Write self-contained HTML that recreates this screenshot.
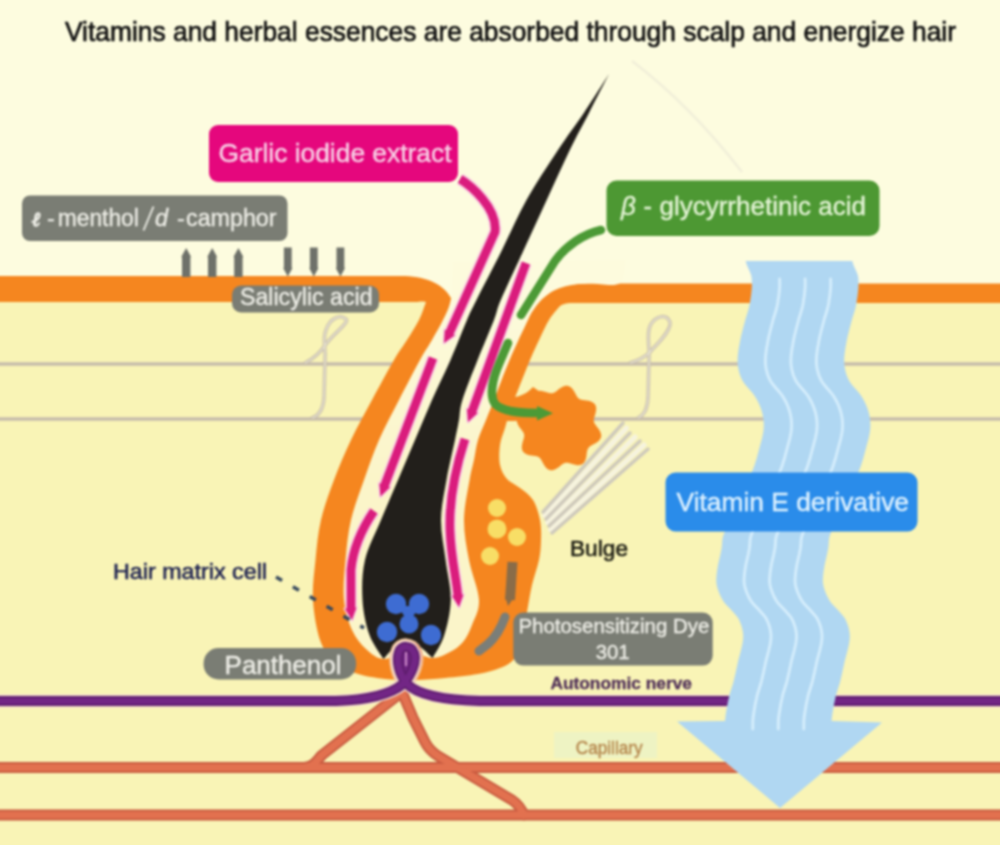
<!DOCTYPE html>
<html><head><meta charset="utf-8"><style>
html,body{margin:0;padding:0;background:#FDFCDF;}
body{width:1000px;height:845px;overflow:hidden;position:relative;font-family:"Liberation Sans",sans-serif;}
svg{position:absolute;left:-10px;top:-10px;display:block;filter:blur(0.8px);}
</style></head><body>

<svg width="1020" height="865" viewBox="-10 -10 1020 865" font-family="Liberation Sans, sans-serif">
<defs><linearGradient id="chg" x1="0" y1="290" x2="0" y2="480" gradientUnits="userSpaceOnUse"><stop offset="0" stop-color="#FDFBDD"/><stop offset="1" stop-color="#FBF5C9"/></linearGradient></defs>
<rect x="-10" y="-10" width="1020" height="865" fill="#FDFCDF"/>
<rect x="-10" y="297" width="1020" height="558" fill="#F9F4B6"/>
<path d="M632 61 Q 690 105 742 172" fill="none" stroke="#F1EFD9" stroke-width="2.5"/>
<g stroke="#C7BDAB" stroke-width="3.5" fill="none" stroke-linecap="round">
 <line x1="-10" y1="364" x2="1010" y2="364"/>
 <line x1="-10" y1="419" x2="1010" y2="419"/>
 <path d="M305 363 C315 358 322 350 326 344 C333 334 350 322 346 319 C340 314 330 318 326 330 C322 340 326 346 325 360 L324 398 C323 410 318 416 312 418"/>
 <path d="M630 363 C640 360 645 357 650 352 C657 344 672 330 670 322 C666 313 655 316 650 326 C646 336 650 345 649 360 L648 398 C647 410 644 415 638 418"/>
</g>
<g stroke="#EDE9D6" stroke-width="1.2" fill="none">
 <path d="M305 363 C315 358 322 350 326 344 C333 334 350 322 346 319 C340 314 330 318 326 330 C322 340 326 346 325 360 L324 398 C323 410 318 416 312 418"/>
 <path d="M630 363 C640 360 645 357 650 352 C657 344 672 330 670 322 C666 313 655 316 650 326 C646 336 650 345 649 360 L648 398 C647 410 644 415 638 418"/>
</g>
<!-- capillaries -->
<g fill="none" stroke-linecap="round" stroke-linejoin="round">
 <g stroke="#C95C41" stroke-width="11">
  <line x1="-10" y1="767.5" x2="1010" y2="767.5"/>
  <line x1="-10" y1="815" x2="1010" y2="815"/>
  <path d="M306 767 C 314 767 317 760 322 755 L 402 692"/>
  <path d="M402 692 L 413 718 L 425 742 C 428 748 432 752 438 756 L 512 800 C 518 804 521 808 524 815"/>
 </g>
 <g stroke="#E2714F" stroke-width="7">
  <line x1="-10" y1="767.5" x2="1010" y2="767.5"/>
  <line x1="-10" y1="815" x2="1010" y2="815"/>
  <path d="M306 767 C 314 767 317 760 322 755 L 402 692"/>
  <path d="M402 692 L 413 718 L 425 742 C 428 748 432 752 438 756 L 512 800 C 518 804 521 808 524 815"/>
 </g>
</g>
<!-- arrector pili -->
<g stroke="#F6F3DE" stroke-width="5" fill="none" stroke-linecap="round">
 <line x1="544.5" y1="515.5" x2="626.5" y2="428"/>
 <line x1="547.5" y1="522.5" x2="635" y2="437"/>
 <line x1="550.5" y1="529.5" x2="644" y2="445"/>
</g>
<g stroke="#CEC9BC" stroke-width="3.4" fill="none" stroke-linecap="round">
 <line x1="543" y1="512" x2="623" y2="423"/>
 <line x1="546" y1="519" x2="630" y2="433"/>
 <line x1="549" y1="526" x2="640" y2="441"/>
 <line x1="552" y1="533" x2="648" y2="449"/>
</g>
<!-- skin bands -->
<path fill="#F5861F" d="M-10 276 L405 276 C428 277 445 285 452 300 L455 306 L500 300 L524 318 C 535 296 550 283.5 590 283.5 L1010 283.5 L1010 303 L572 303 C566 303 562 304 559 307 L559.0 307.0 C557.3 309.2 552.2 314.8 549.0 320.0 C545.8 325.2 543.2 331.3 540.0 338.0 C536.8 344.7 533.7 351.3 530.0 360.0 C526.3 368.7 521.3 381.7 518.0 390.0 C514.7 398.3 512.2 403.7 510.0 410.0 C507.8 416.3 506.7 422.2 505.0 428.0 C503.3 433.8 500.8 438.8 500.0 445.0 C499.2 451.2 498.8 459.3 500.0 465.0 C501.2 470.7 503.7 475.2 507.0 479.0 C510.3 482.8 515.7 484.5 520.0 488.0 C524.3 491.5 529.7 494.7 533.0 500.0 C536.3 505.3 538.7 513.3 540.0 520.0 C541.3 526.7 541.2 533.3 541.0 540.0 C540.8 546.7 540.5 552.5 539.0 560.0 C537.5 567.5 534.0 576.3 532.0 585.0 C530.0 593.7 528.7 602.8 527.0 612.0 C525.3 621.2 524.2 632.2 522.0 640.0 C519.8 647.8 517.7 654.3 514.0 659.0 C510.3 663.7 506.0 665.5 500.0 668.0 C494.0 670.5 487.2 672.3 478.0 674.0 C468.8 675.7 455.5 677.0 445.0 678.0 C434.5 679.0 425.0 679.8 415.0 680.0 C405.0 680.2 395.0 680.2 385.0 679.0 C375.0 677.8 363.5 676.0 355.0 673.0 C346.5 670.0 339.8 666.5 334.0 661.0 C328.2 655.5 323.5 650.2 320.0 640.0 C316.5 629.8 313.8 613.3 313.0 600.0 C312.2 586.7 314.2 573.3 315.5 560.0 C316.8 546.7 317.9 533.3 321.0 520.0 C324.1 506.7 329.0 493.3 334.0 480.0 C339.0 466.7 344.7 453.3 351.0 440.0 C357.3 426.7 364.8 413.3 372.0 400.0 C379.2 386.7 388.2 370.0 394.0 360.0 C399.8 350.0 402.8 346.7 407.0 340.0 C411.2 333.3 415.8 326.3 419.0 320.0 C422.2 313.7 424.8 305.0 426.0 302.0 C421 301 419 302 416 302 L-10 302Z"/>
<path fill="#F5861F" d="M597.9 428.0 L599.0 429.6 L600.0 431.2 L600.7 432.9 L601.2 434.7 L601.2 436.4 L600.7 438.0 L599.9 439.5 L598.7 440.9 L597.3 442.1 L595.6 443.2 L593.9 444.1 L592.3 445.0 L590.8 445.8 L589.5 446.7 L588.5 447.7 L587.8 448.9 L587.3 450.3 L586.9 451.9 L586.7 453.6 L586.5 455.5 L586.2 457.4 L585.7 459.3 L585.0 461.0 L584.1 462.5 L582.9 463.7 L581.4 464.6 L579.8 465.1 L578.0 465.2 L576.1 465.0 L574.2 464.6 L572.3 464.1 L570.5 463.5 L568.9 463.1 L567.4 462.8 L565.9 462.8 L564.6 463.1 L563.2 463.8 L561.9 464.6 L560.5 465.7 L559.0 466.9 L557.4 468.0 L555.8 469.0 L554.1 469.7 L552.3 470.2 L550.6 470.2 L549.0 469.7 L547.5 468.9 L546.1 467.7 L544.9 466.3 L543.8 464.6 L542.9 462.9 L542.0 461.3 L541.2 459.8 L540.3 458.5 L539.3 457.5 L538.1 456.8 L536.7 456.3 L535.1 455.9 L533.4 455.7 L531.5 455.5 L529.6 455.2 L527.7 454.7 L526.0 454.0 L524.5 453.1 L523.3 451.9 L522.4 450.4 L521.9 448.8 L521.8 447.0 L522.0 445.1 L522.4 443.2 L522.9 441.3 L523.5 439.5 L523.9 437.9 L524.2 436.4 L524.2 434.9 L523.9 433.6 L523.2 432.2 L522.4 430.9 L521.3 429.5 L520.1 428.0 L519.0 426.4 L518.0 424.8 L517.3 423.1 L516.8 421.3 L516.8 419.6 L517.3 418.0 L518.1 416.5 L519.3 415.1 L520.7 413.9 L522.4 412.8 L524.1 411.9 L525.7 411.0 L527.2 410.2 L528.5 409.3 L529.5 408.3 L530.2 407.1 L530.7 405.7 L531.1 404.1 L531.3 402.4 L531.5 400.5 L531.8 398.6 L532.3 396.7 L533.0 395.0 L533.9 393.5 L535.1 392.3 L536.6 391.4 L538.2 390.9 L540.0 390.8 L541.9 391.0 L543.8 391.4 L545.7 391.9 L547.5 392.5 L549.1 392.9 L550.6 393.2 L552.1 393.2 L553.4 392.9 L554.8 392.2 L556.1 391.4 L557.5 390.3 L559.0 389.1 L560.6 388.0 L562.2 387.0 L563.9 386.3 L565.7 385.8 L567.4 385.8 L569.0 386.3 L570.5 387.1 L571.9 388.3 L573.1 389.7 L574.2 391.4 L575.1 393.1 L576.0 394.7 L576.8 396.2 L577.7 397.5 L578.7 398.5 L579.9 399.2 L581.3 399.7 L582.9 400.1 L584.6 400.3 L586.5 400.5 L588.4 400.8 L590.3 401.3 L592.0 402.0 L593.5 402.9 L594.7 404.1 L595.6 405.6 L596.1 407.2 L596.2 409.0 L596.0 410.9 L595.6 412.8 L595.1 414.7 L594.5 416.5 L594.1 418.1 L593.8 419.6 L593.8 421.1 L594.1 422.4 L594.8 423.8 L595.6 425.1 L596.7 426.5Z"/>
<path fill="#F5861F" d="M502 396 C512 399 524 397 533 387 L546 396 L540 418 C528 421 513 421 503 421Z"/>
<path fill="url(#chg)" d="M453.0 262.0 C452.8 266.7 452.6 282.8 452.0 290.0 C451.4 297.2 451.0 300.0 449.5 305.0 C448.0 310.0 445.9 314.2 443.0 320.0 C440.1 325.8 435.8 333.3 432.0 340.0 C428.2 346.7 425.5 350.0 420.0 360.0 C414.5 370.0 405.8 386.7 399.0 400.0 C392.2 413.3 384.8 426.7 379.0 440.0 C373.2 453.3 368.7 466.7 364.0 480.0 C359.3 493.3 354.1 506.7 351.0 520.0 C347.9 533.3 346.7 546.7 345.5 560.0 C344.3 573.3 342.9 588.3 344.0 600.0 C345.1 611.7 348.3 621.8 352.0 630.0 C355.7 638.2 360.8 644.2 366.0 649.0 C371.2 653.8 376.5 658.5 383.5 659.0 C390.5 659.5 399.8 652.2 408.0 652.0 C416.2 651.8 425.5 658.0 432.5 658.0 C439.5 658.0 444.9 654.7 450.0 652.0 C455.1 649.3 459.3 646.5 463.0 642.0 C466.7 637.5 469.3 632.0 472.0 625.0 C474.7 618.0 479.5 610.8 479.0 600.0 C478.5 589.2 471.5 573.3 469.0 560.0 C466.5 546.7 463.9 533.3 464.0 520.0 C464.1 506.7 467.9 490.0 469.6 480.0 C471.3 470.0 472.6 466.7 474.0 460.0 C475.4 453.3 476.0 446.7 478.0 440.0 C480.0 433.3 483.3 426.7 486.0 420.0 C488.7 413.3 490.1 410.0 494.0 400.0 C497.9 390.0 503.9 373.3 509.6 360.0 C515.3 346.7 524.0 328.3 528.0 320.0 C532.0 311.7 531.4 313.1 533.4 310.0 C535.4 306.9 537.6 303.9 540.1 301.2 C542.6 298.5 545.3 296.0 548.5 293.9 C551.7 291.8 555.2 289.8 559.3 288.3 C563.4 286.8 567.8 285.5 572.9 284.7 C578.0 283.9 582.1 283.8 590.0 283.5 C597.9 283.2 614.2 287.1 620.0 283.2 C625.8 279.3 624.2 263.9 625.0 260.0"/>
<!-- yellow dots -->
<g fill="#F8DE66">
 <circle cx="497" cy="508" r="9"/><circle cx="497" cy="529" r="9.5"/><circle cx="517" cy="537" r="9"/><circle cx="490" cy="556" r="9"/>
</g>
<!-- brown / gray bars -->
<path d="M512.5 562 L510 600" stroke="#8A6C48" stroke-width="10" fill="none"/>
<path d="M505 596 L515 596 L508 606Z" fill="#8A6C48"/>
<path d="M505 617 C 501 628 496 637 488 644 L 479 651" stroke="#7B7E78" stroke-width="9" stroke-linecap="round" fill="none"/>
<!-- hair -->
<path fill="#221F1B" d="M609.0 74.0 C604.9 80.3 593.0 99.3 584.5 112.0 C576.0 124.7 567.7 135.3 558.0 150.0 C548.3 164.7 535.8 183.3 526.5 200.0 C517.2 216.7 510.3 233.3 502.0 250.0 C493.7 266.7 482.3 288.3 476.5 300.0 C470.7 311.7 471.3 310.0 467.0 320.0 C462.7 330.0 456.3 346.7 450.5 360.0 C444.7 373.3 437.9 386.7 432.0 400.0 C426.1 413.3 420.7 426.7 415.0 440.0 C409.3 453.3 403.7 466.7 398.0 480.0 C392.3 493.3 386.5 506.7 381.0 520.0 C375.5 533.3 368.1 546.7 365.0 560.0 C361.9 573.3 361.8 587.5 362.5 600.0 C363.2 612.5 366.0 625.2 369.5 635.0 C373.0 644.8 381.2 655.0 383.5 659.0 L383.5 659.0 C385.4 657.0 391.1 649.7 395.0 647.0 C398.9 644.3 402.8 643.0 407.0 643.0 C411.2 643.0 415.8 644.5 420.0 647.0 C424.2 649.5 430.4 656.2 432.5 658.0 L432.5 658.0 C434.4 654.3 440.9 645.7 444.0 636.0 C447.1 626.3 450.5 612.7 450.8 600.0 C451.1 587.3 447.2 573.3 445.6 560.0 C444.0 546.7 440.9 533.3 441.0 520.0 C441.1 506.7 444.2 493.3 446.5 480.0 C448.8 466.7 452.9 450.0 455.0 440.0 C457.1 430.0 457.8 426.7 459.0 420.0 C460.2 413.3 459.3 410.0 462.4 400.0 C465.5 390.0 472.3 373.3 477.6 360.0 C482.9 346.7 490.1 330.0 494.0 320.0 C497.9 310.0 495.9 311.7 500.8 300.0 C505.8 288.3 516.1 266.7 523.7 250.0 C531.4 233.3 539.0 216.7 546.7 200.0 C554.4 183.3 562.7 164.7 569.8 150.0 C576.9 135.3 583.0 124.7 589.5 112.0 C596.0 99.3 605.8 80.3 609.0 74.0Z"/>
<!-- blue cells -->
<g fill="#3E6CD2">
 <path d="M398 606 L409 624 L419 606Z"/>
 <circle cx="396" cy="604" r="10.2"/><circle cx="419" cy="604" r="10.2"/><circle cx="409" cy="624" r="9.5"/><circle cx="387" cy="632" r="10.2"/><circle cx="431" cy="635" r="10.2"/>
</g>
<!-- magenta arrows -->
<g fill="none" stroke="#F9CFE2" stroke-width="12" stroke-linejoin="round"><path d="M460 179 C 470 185 498 208 495 232 L 449 334"/><path d="M433 358 L 384 487"/><path d="M374 511 C 361 530 353 548 351 570 L 351 611"/><path d="M526 263 L 471.5 413"/><path d="M465 439 C 455 470 449 500 450 530 C 451 560 457 580 458 598"/></g>
<g fill="#F9CFE2" stroke="#F9CFE2" stroke-width="3" stroke-linejoin="round"><path d="M444.8 329.7 L444.0 343.0 L454.9 335.3Z"/><path d="M379.3 483.3 L380.5 496.5 L390.0 487.2Z"/><path d="M345.0 608.7 L352.0 620.0 L356.4 607.4Z"/><path d="M467.0 408.7 L468.0 422.0 L477.7 412.9Z"/><path d="M452.0 595.7 L459.0 607.0 L463.4 594.4Z"/></g>
<g fill="none" stroke="#DA1C7D" stroke-width="8.5" stroke-linejoin="round"><path d="M460 179 C 470 185 498 208 495 232 L 449 334"/><path d="M433 358 L 384 487"/><path d="M374 511 C 361 530 353 548 351 570 L 351 611"/><path d="M526 263 L 471.5 413"/><path d="M465 439 C 455 470 449 500 450 530 C 451 560 457 580 458 598"/></g>
<g fill="#DA1C7D"><path d="M444.8 329.7 L444.0 343.0 L454.9 335.3Z"/><path d="M379.3 483.3 L380.5 496.5 L390.0 487.2Z"/><path d="M345.0 608.7 L352.0 620.0 L356.4 607.4Z"/><path d="M467.0 408.7 L468.0 422.0 L477.7 412.9Z"/><path d="M452.0 595.7 L459.0 607.0 L463.4 594.4Z"/></g>
<!-- green arrows -->
<g fill="none" stroke="#4C9A36" stroke-width="8.5" stroke-linecap="round">
 <path d="M601 230 C 583 234 566 246 555 261 L 521 315"/>
 <path d="M508 343 L 499 364 C 493 378 489 395 495 404 C 503 412 520 413 538 413"/>
</g>
<path d="M537 406 L553 413.2 L537 420.5Z" fill="#4C9A36"/>
<!-- purple nerve -->
<path d="M403 684 C 412 674 417 661 414 653 C 411 645 401 645 399 652 C 396 661 399 674 407 684" fill="none" stroke="#F5CBA6" stroke-width="17"/>
<path d="M412 678 C 418 668 421 658 417.5 650 C 414 643 405 642 401 647" fill="none" stroke="#E2714F" stroke-width="6"/>
<path d="M-10 701 L336 701 C 366 700 390 695 403 684 C 412 674 417 661 414 653 C 411 645 401 645 399 652 C 396 661 399 674 407 684 C 418 695 444 700 480 701 L1010 701" fill="none" stroke="#F3D9CF" stroke-width="13"/>
<path d="M403 684 C 412 674 417 661 414 653 C 411 645 401 645 399 652 C 396 661 399 674 407 684Z" fill="#722685"/>
<path d="M-10 701 L336 701 C 366 700 390 695 403 684 C 412 674 417 661 414 653 C 411 645 401 645 399 652 C 396 661 399 674 407 684 C 418 695 444 700 480 701 L1010 701" fill="none" stroke="#5E1D6C" stroke-width="10"/>
<path d="M-10 701 L336 701 C 366 700 390 695 403 684 C 412 674 417 661 414 653 C 411 645 401 645 399 652 C 396 661 399 674 407 684 C 418 695 444 700 480 701 L1010 701" fill="none" stroke="#722685" stroke-width="6.5"/>
<path d="M406 652 L406 666" stroke="#E2A6D6" stroke-width="1.6"/>
<!-- ribbon -->
<path d="M745.7 261.0 L746.5 264.0 L747.7 267.0 L749.1 270.0 L750.4 273.0 L751.4 276.0 L751.8 279.0 L751.9 282.0 L751.9 285.0 L751.8 288.0 L751.5 291.0 L751.2 294.0 L750.8 297.0 L750.3 300.0 L749.9 303.0 L749.3 306.0 L748.6 309.0 L747.7 312.0 L746.8 315.0 L745.8 318.0 L745.0 321.0 L744.2 324.0 L743.4 327.0 L742.6 330.0 L741.9 333.0 L741.1 336.0 L740.5 339.0 L739.9 342.0 L739.4 345.0 L738.8 348.0 L738.4 351.0 L738.0 354.0 L737.7 357.0 L737.6 360.0 L737.6 363.0 L737.9 366.0 L738.4 369.0 L739.1 372.0 L740.0 375.0 L741.2 378.0 L742.7 381.0 L744.7 384.0 L747.2 387.0 L749.9 390.0 L752.5 393.0 L754.7 396.0 L756.5 399.0 L758.1 402.0 L759.5 405.0 L760.7 408.0 L761.7 411.0 L762.5 414.0 L763.1 417.0 L763.5 420.0 L763.7 423.0 L763.8 426.0 L763.6 429.0 L763.3 432.0 L762.7 435.0 L762.1 438.0 L761.3 441.0 L760.5 444.0 L759.7 447.0 L758.9 450.0 L758.1 453.0 L757.3 456.0 L756.5 459.0 L755.5 462.0 L754.6 465.0 L753.5 468.0 L752.3 471.0 L751.0 474.0 L749.7 477.0 L748.3 480.0 L746.8 483.0 L745.4 486.0 L743.9 489.0 L742.5 492.0 L741.0 495.0 L739.6 498.0 L738.3 501.0 L736.9 504.0 L735.5 507.0 L734.1 510.0 L732.7 513.0 L731.4 516.0 L730.0 519.0 L728.7 522.0 L727.4 525.0 L726.2 528.0 L725.0 531.0 L723.8 534.0 L722.8 537.0 L722.3 540.0 L722.1 543.0 L721.9 546.0 L721.5 549.0 L720.9 552.0 L720.3 555.0 L719.6 558.0 L718.9 561.0 L718.2 564.0 L717.7 567.0 L717.2 570.0 L716.8 573.0 L716.5 576.0 L716.3 579.0 L716.3 582.0 L716.7 585.0 L717.4 588.0 L718.4 591.0 L719.6 594.0 L721.0 597.0 L722.6 600.0 L724.6 603.0 L727.4 606.0 L730.4 609.0 L733.1 612.0 L735.7 615.0 L738.1 618.0 L739.6 621.0 L740.8 624.0 L741.8 627.0 L742.5 630.0 L743.0 633.0 L743.2 636.0 L743.1 639.0 L742.7 642.0 L742.2 645.0 L741.5 648.0 L740.8 651.0 L740.0 654.0 L739.2 657.0 L738.4 660.0 L737.7 663.0 L737.1 666.0 L736.4 669.0 L735.8 672.0 L735.1 675.0 L734.4 678.0 L733.7 681.0 L732.9 684.0 L731.9 687.0 L731.0 690.0 L730.0 693.0 L729.2 696.0 L728.6 699.0 L727.9 702.0 L727.3 705.0 L726.8 708.0 L726.3 711.0 L725.8 714.0 L725.4 717.0 L725.1 720.0 L725.0 721.0 L677 721.5 L780 808 L882 722.5 L831.6 721.0 L831.7 720.0 L832.0 717.0 L832.4 714.0 L832.9 711.0 L833.4 708.0 L833.9 705.0 L834.5 702.0 L835.2 699.0 L835.8 696.0 L836.6 693.0 L837.6 690.0 L838.5 687.0 L839.5 684.0 L840.3 681.0 L841.0 678.0 L841.7 675.0 L842.4 672.0 L843.0 669.0 L843.7 666.0 L844.3 663.0 L845.0 660.0 L845.8 657.0 L846.6 654.0 L847.4 651.0 L848.1 648.0 L848.8 645.0 L849.3 642.0 L849.7 639.0 L849.8 636.0 L849.6 633.0 L849.1 630.0 L848.4 627.0 L847.4 624.0 L846.2 621.0 L844.7 618.0 L842.3 615.0 L839.7 612.0 L837.0 609.0 L834.0 606.0 L831.2 603.0 L829.2 600.0 L827.6 597.0 L826.2 594.0 L825.0 591.0 L824.0 588.0 L823.3 585.0 L822.9 582.0 L822.9 579.0 L823.1 576.0 L823.4 573.0 L823.8 570.0 L824.3 567.0 L824.8 564.0 L825.5 561.0 L826.2 558.0 L826.9 555.0 L827.5 552.0 L828.1 549.0 L828.5 546.0 L828.7 543.0 L828.9 540.0 L829.4 537.0 L830.4 534.0 L831.6 531.0 L832.8 528.0 L834.0 525.0 L835.3 522.0 L836.6 519.0 L838.0 516.0 L839.3 513.0 L840.7 510.0 L842.1 507.0 L843.5 504.0 L844.9 501.0 L846.2 498.0 L847.6 495.0 L849.1 492.0 L850.5 489.0 L852.0 486.0 L853.4 483.0 L854.9 480.0 L856.3 477.0 L857.6 474.0 L858.9 471.0 L860.1 468.0 L861.2 465.0 L862.1 462.0 L863.1 459.0 L863.9 456.0 L864.7 453.0 L865.5 450.0 L866.3 447.0 L867.1 444.0 L867.9 441.0 L868.7 438.0 L869.3 435.0 L869.9 432.0 L870.2 429.0 L870.4 426.0 L870.3 423.0 L870.1 420.0 L869.7 417.0 L869.1 414.0 L868.3 411.0 L867.3 408.0 L866.1 405.0 L864.7 402.0 L863.1 399.0 L861.3 396.0 L859.1 393.0 L856.5 390.0 L853.8 387.0 L851.3 384.0 L849.3 381.0 L847.8 378.0 L846.6 375.0 L845.7 372.0 L845.0 369.0 L844.5 366.0 L844.2 363.0 L844.2 360.0 L844.3 357.0 L844.6 354.0 L845.0 351.0 L845.4 348.0 L846.0 345.0 L846.5 342.0 L847.1 339.0 L847.7 336.0 L848.5 333.0 L849.2 330.0 L850.0 327.0 L850.8 324.0 L851.6 321.0 L852.4 318.0 L853.4 315.0 L854.3 312.0 L855.2 309.0 L855.9 306.0 L856.5 303.0 L856.9 300.0 L857.4 297.0 L857.8 294.0 L858.1 291.0 L858.4 288.0 L858.5 285.0 L858.5 282.0 L858.4 279.0 L858.0 276.0 L857.0 273.0 L855.7 270.0 L854.3 267.0 L853.1 264.0 L852.3 261.0Z" fill="#B0D7F2"/>
<g fill="none" stroke="#D6EEFC" stroke-width="2.8" stroke-linecap="round"><path d="M779.6 279.0 L779.7 282.0 L779.7 285.0 L779.6 288.0 L779.3 291.0 L779.0 294.0 L778.6 297.0 L778.1 300.0 L777.7 303.0 L777.1 306.0 L776.4 309.0 L775.5 312.0 L774.6 315.0 L773.6 318.0 L772.8 321.0 L772.0 324.0 L771.2 327.0 L770.4 330.0 L769.7 333.0 L768.9 336.0 L768.3 339.0 L767.7 342.0 L767.2 345.0 L766.6 348.0 L766.2 351.0 L765.8 354.0 L765.5 357.0 L765.4 360.0 L765.4 363.0 L765.7 366.0 L766.2 369.0 L766.9 372.0 L767.8 375.0 L769.0 378.0 L770.5 381.0 L772.5 384.0 L775.0 387.0 L777.7 390.0 L780.3 393.0 L782.5 396.0 L784.3 399.0 L785.9 402.0 L787.3 405.0 L788.5 408.0 L789.5 411.0 L790.3 414.0 L790.9 417.0 L791.3 420.0 L791.5 423.0 L791.6 426.0 L791.4 429.0 L791.1 432.0 L790.5 435.0 L789.9 438.0 L789.1 441.0 L788.3 444.0 L787.5 447.0 L786.7 450.0 L785.9 453.0 L785.1 456.0 L784.3 459.0 L783.3 462.0 L782.4 465.0 L781.3 468.0 L780.1 471.0 L778.8 474.0 L777.5 477.0 L776.1 480.0 L774.6 483.0 L773.2 486.0 L771.7 489.0 L770.3 492.0 L768.8 495.0 L767.4 498.0 L766.1 501.0 L764.7 504.0 L763.3 507.0 L761.9 510.0 L760.5 513.0 L759.2 516.0 L757.8 519.0 L756.5 522.0 L755.2 525.0 L754.0 528.0 L752.8 531.0 L751.6 534.0 L750.6 537.0 L750.1 540.0 L749.9 543.0 L749.7 546.0 L749.3 549.0 L748.7 552.0 L748.1 555.0 L747.4 558.0 L746.7 561.0 L746.0 564.0 L745.5 567.0 L745.0 570.0 L744.6 573.0 L744.3 576.0 L744.1 579.0 L744.1 582.0 L744.5 585.0 L745.2 588.0 L746.2 591.0 L747.4 594.0 L748.8 597.0 L750.4 600.0 L752.4 603.0 L755.2 606.0 L758.2 609.0 L760.9 612.0 L763.5 615.0 L765.9 618.0 L767.4 621.0 L768.6 624.0 L769.6 627.0 L770.3 630.0 L770.8 633.0 L771.0 636.0 L770.9 639.0 L770.5 642.0 L770.0 645.0 L769.3 648.0 L768.6 651.0 L767.8 654.0 L767.0 657.0 L766.2 660.0 L765.5 663.0 L764.9 666.0 L764.2 669.0 L763.6 672.0 L762.9 675.0 L762.2 678.0 L761.5 681.0 L760.7 684.0 L759.7 687.0 L758.8 690.0 L757.8 693.0 L757.0 696.0 L756.4 699.0 L755.7 702.0 L755.1 705.0 L754.6 708.0 L754.1 711.0 L753.6 714.0 L753.2 717.0 L752.9 720.0 L752.8 723.0 L752.8 726.0 L752.8 729.0"/><path d="M805.1 279.0 L805.2 282.0 L805.2 285.0 L805.1 288.0 L804.8 291.0 L804.5 294.0 L804.1 297.0 L803.6 300.0 L803.2 303.0 L802.6 306.0 L801.9 309.0 L801.0 312.0 L800.1 315.0 L799.1 318.0 L798.3 321.0 L797.5 324.0 L796.7 327.0 L795.9 330.0 L795.2 333.0 L794.4 336.0 L793.8 339.0 L793.2 342.0 L792.7 345.0 L792.1 348.0 L791.7 351.0 L791.3 354.0 L791.0 357.0 L790.9 360.0 L790.9 363.0 L791.2 366.0 L791.7 369.0 L792.4 372.0 L793.3 375.0 L794.5 378.0 L796.0 381.0 L798.0 384.0 L800.5 387.0 L803.2 390.0 L805.8 393.0 L808.0 396.0 L809.8 399.0 L811.4 402.0 L812.8 405.0 L814.0 408.0 L815.0 411.0 L815.8 414.0 L816.4 417.0 L816.8 420.0 L817.0 423.0 L817.1 426.0 L816.9 429.0 L816.6 432.0 L816.0 435.0 L815.4 438.0 L814.6 441.0 L813.8 444.0 L813.0 447.0 L812.2 450.0 L811.4 453.0 L810.6 456.0 L809.8 459.0 L808.8 462.0 L807.9 465.0 L806.8 468.0 L805.6 471.0 L804.3 474.0 L803.0 477.0 L801.6 480.0 L800.1 483.0 L798.7 486.0 L797.2 489.0 L795.8 492.0 L794.3 495.0 L792.9 498.0 L791.6 501.0 L790.2 504.0 L788.8 507.0 L787.4 510.0 L786.0 513.0 L784.7 516.0 L783.3 519.0 L782.0 522.0 L780.7 525.0 L779.5 528.0 L778.3 531.0 L777.1 534.0 L776.1 537.0 L775.6 540.0 L775.4 543.0 L775.2 546.0 L774.8 549.0 L774.2 552.0 L773.6 555.0 L772.9 558.0 L772.2 561.0 L771.5 564.0 L771.0 567.0 L770.5 570.0 L770.1 573.0 L769.8 576.0 L769.6 579.0 L769.6 582.0 L770.0 585.0 L770.7 588.0 L771.7 591.0 L772.9 594.0 L774.3 597.0 L775.9 600.0 L777.9 603.0 L780.7 606.0 L783.7 609.0 L786.4 612.0 L789.0 615.0 L791.4 618.0 L792.9 621.0 L794.1 624.0 L795.1 627.0 L795.8 630.0 L796.3 633.0 L796.5 636.0 L796.4 639.0 L796.0 642.0 L795.5 645.0 L794.8 648.0 L794.1 651.0 L793.3 654.0 L792.5 657.0 L791.7 660.0 L791.0 663.0 L790.4 666.0 L789.7 669.0 L789.1 672.0 L788.4 675.0 L787.7 678.0 L787.0 681.0 L786.2 684.0 L785.2 687.0 L784.3 690.0 L783.3 693.0 L782.5 696.0 L781.9 699.0 L781.2 702.0 L780.6 705.0 L780.1 708.0 L779.6 711.0 L779.1 714.0 L778.7 717.0 L778.4 720.0 L778.3 723.0 L778.3 726.0 L778.3 729.0"/><path d="M830.6 279.0 L830.7 282.0 L830.7 285.0 L830.6 288.0 L830.3 291.0 L830.0 294.0 L829.6 297.0 L829.1 300.0 L828.7 303.0 L828.1 306.0 L827.4 309.0 L826.5 312.0 L825.6 315.0 L824.6 318.0 L823.8 321.0 L823.0 324.0 L822.2 327.0 L821.4 330.0 L820.7 333.0 L819.9 336.0 L819.3 339.0 L818.7 342.0 L818.2 345.0 L817.6 348.0 L817.2 351.0 L816.8 354.0 L816.5 357.0 L816.4 360.0 L816.4 363.0 L816.7 366.0 L817.2 369.0 L817.9 372.0 L818.8 375.0 L820.0 378.0 L821.5 381.0 L823.5 384.0 L826.0 387.0 L828.7 390.0 L831.3 393.0 L833.5 396.0 L835.3 399.0 L836.9 402.0 L838.3 405.0 L839.5 408.0 L840.5 411.0 L841.3 414.0 L841.9 417.0 L842.3 420.0 L842.5 423.0 L842.6 426.0 L842.4 429.0 L842.1 432.0 L841.5 435.0 L840.9 438.0 L840.1 441.0 L839.3 444.0 L838.5 447.0 L837.7 450.0 L836.9 453.0 L836.1 456.0 L835.3 459.0 L834.3 462.0 L833.4 465.0 L832.3 468.0 L831.1 471.0 L829.8 474.0 L828.5 477.0 L827.1 480.0 L825.6 483.0 L824.2 486.0 L822.7 489.0 L821.3 492.0 L819.8 495.0 L818.4 498.0 L817.1 501.0 L815.7 504.0 L814.3 507.0 L812.9 510.0 L811.5 513.0 L810.2 516.0 L808.8 519.0 L807.5 522.0 L806.2 525.0 L805.0 528.0 L803.8 531.0 L802.6 534.0 L801.6 537.0 L801.1 540.0 L800.9 543.0 L800.7 546.0 L800.3 549.0 L799.7 552.0 L799.1 555.0 L798.4 558.0 L797.7 561.0 L797.0 564.0 L796.5 567.0 L796.0 570.0 L795.6 573.0 L795.3 576.0 L795.1 579.0 L795.1 582.0 L795.5 585.0 L796.2 588.0 L797.2 591.0 L798.4 594.0 L799.8 597.0 L801.4 600.0 L803.4 603.0 L806.2 606.0 L809.2 609.0 L811.9 612.0 L814.5 615.0 L816.9 618.0 L818.4 621.0 L819.6 624.0 L820.6 627.0 L821.3 630.0 L821.8 633.0 L822.0 636.0 L821.9 639.0 L821.5 642.0 L821.0 645.0 L820.3 648.0 L819.6 651.0 L818.8 654.0 L818.0 657.0 L817.2 660.0 L816.5 663.0 L815.9 666.0 L815.2 669.0 L814.6 672.0 L813.9 675.0 L813.2 678.0 L812.5 681.0 L811.7 684.0 L810.7 687.0 L809.8 690.0 L808.8 693.0 L808.0 696.0 L807.4 699.0 L806.7 702.0 L806.1 705.0 L805.6 708.0 L805.1 711.0 L804.6 714.0 L804.2 717.0 L803.9 720.0 L803.8 723.0 L803.8 726.0 L803.8 729.0"/></g>
<!-- small arrows -->
<g fill="#6E716A">
 <path d="M182.0 277 L182.0 258 L181.5 256.5 L186.2 248 L190.9 256.5 L190.4 258 L190.4 277Z"/>
 <path d="M208.0 277 L208.0 258 L207.5 256.5 L212.2 248 L216.9 256.5 L216.4 258 L216.4 277Z"/>
 <path d="M234.2 277 L234.2 258 L233.7 256.5 L238.4 248 L243.1 256.5 L242.6 258 L242.6 277Z"/>
 <path d="M283.9 247.5 L291.7 247.5 L291.7 267 L292.2 268.5 L287.8 276.5 L283.4 268.5 L283.9 267Z"/>
 <path d="M309.9 247.5 L317.7 247.5 L317.7 267 L318.2 268.5 L313.8 276.5 L309.4 268.5 L309.9 267Z"/>
 <path d="M336.5 247.5 L344.3 247.5 L344.3 267 L344.8 268.5 L340.4 276.5 L336.0 268.5 L336.5 267Z"/>
</g>
<!-- dashed pointer -->
<path d="M276 577 L364 628" stroke="#37495E" stroke-width="3.5" stroke-dasharray="7 12.5" fill="none"/>
<!-- labels -->
<text x="65" y="41" font-size="28.5" fill="#111111" stroke="#111111" stroke-width="0.7" textLength="891" lengthAdjust="spacingAndGlyphs">Vitamins and herbal essences are absorbed through scalp and energize hair</text>
<rect x="209" y="125" width="249" height="57" rx="9" fill="#E5077D"/>
<text x="218.5" y="161.5" font-size="26.4" fill="#F8D2E6" stroke="#F8D2E6" stroke-width="0.4" textLength="233" lengthAdjust="spacingAndGlyphs">Garlic iodide extract</text>
<rect x="22" y="195.5" width="265.5" height="45.5" rx="8" fill="#7A7D74"/>
<text y="225.6" font-size="23.5" fill="#EDEDE6" stroke="#EDEDE6" stroke-width="0.35"><tspan x="32" font-family="Liberation Serif" font-style="italic" font-weight="bold" font-size="20" stroke-width="1.3">ℓ</tspan><tspan x="47">-</tspan><tspan x="57.8" textLength="81" lengthAdjust="spacingAndGlyphs">menthol</tspan><tspan x="155" font-style="italic" font-weight="300">d</tspan><tspan x="177">-</tspan><tspan x="186" textLength="90.5" lengthAdjust="spacingAndGlyphs">camphor</tspan></text>
<path d="M143.5 230.5 L153.5 206.5" stroke="#EDEDE6" stroke-width="1.9" fill="none"/>
<rect x="232" y="285.5" width="147" height="27" rx="9" fill="#7A7D74"/>
<text x="240" y="305" font-size="23" fill="#EDEDE6" stroke="#EDEDE6" stroke-width="0.35" textLength="132.5" lengthAdjust="spacingAndGlyphs">Salicylic acid</text>
<rect x="606.5" y="180.5" width="273" height="55.5" rx="10" fill="#4D9833"/>
<text y="215" font-size="25.5" fill="#E4F4D6" stroke="#E4F4D6" stroke-width="0.35"><tspan x="621" font-family="Liberation Sans" font-style="italic" font-size="26">β</tspan><tspan x="643.5">-</tspan><tspan x="659.5" textLength="206.5" lengthAdjust="spacingAndGlyphs">glycyrrhetinic acid</tspan></text>
<rect x="665.5" y="472.5" width="252" height="59" rx="10" fill="#2A8CEA"/>
<text x="676.6" y="511.2" font-size="26.4" fill="#DDF1FF" stroke="#DDF1FF" stroke-width="0.4" textLength="232.4" lengthAdjust="spacingAndGlyphs">Vitamin E derivative</text>
<rect x="513.3" y="612.6" width="199.4" height="53" rx="10" fill="#7A7D74"/>
<text x="518.4" y="633.3" font-size="20.4" fill="#EDEDE6" stroke="#EDEDE6" stroke-width="0.35" textLength="191" lengthAdjust="spacingAndGlyphs">Photosensitizing Dye</text>
<text x="612.7" y="658.6" font-size="20.4" fill="#EDEDE6" stroke="#EDEDE6" stroke-width="0.35" text-anchor="middle">301</text>
<text x="550.4" y="688.9" font-size="17.3" font-weight="bold" fill="#4F2E57" stroke="#4F2E57" stroke-width="0.3" textLength="141.6" lengthAdjust="spacingAndGlyphs">Autonomic nerve</text>
<rect x="554" y="732" width="103" height="26" fill="#EEF3C3"/>
<text x="575.7" y="754.3" font-size="18.8" fill="#B5864C" stroke="#B5864C" stroke-width="0.4" textLength="67" lengthAdjust="spacingAndGlyphs">Capillary</text>
<text x="570" y="556" font-size="22.4" fill="#1E1E14" stroke="#1E1E14" stroke-width="0.6" textLength="58" lengthAdjust="spacingAndGlyphs">Bulge</text>
<text x="113" y="579.3" font-size="22.8" fill="#222652" stroke="#222652" stroke-width="0.6" textLength="154" lengthAdjust="spacingAndGlyphs">Hair matrix cell</text>
<rect x="203.6" y="648" width="152.6" height="31.4" rx="15" fill="#7A7D74"/>
<text x="224.6" y="673.8" font-size="25.9" fill="#EDEDE6" stroke="#EDEDE6" stroke-width="0.4" textLength="116.8" lengthAdjust="spacingAndGlyphs">Panthenol</text>
</svg>
</body></html>
